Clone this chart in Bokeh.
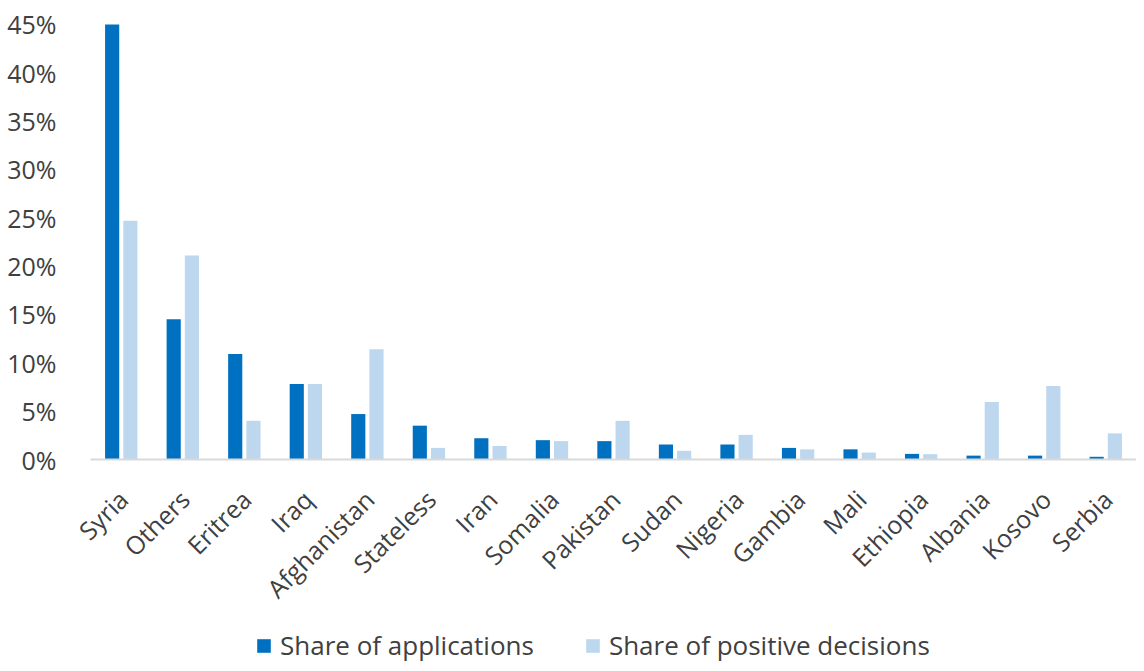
import math
from bokeh.plotting import figure
from bokeh.models import (ColumnDataSource, Range1d, Legend, LegendItem,
                          FixedTicker, CustomJSTickFormatter, Span)
from bokeh.core.properties import value
from bokeh.transform import dodge
from bokeh.embed import file_html
from bokeh.resources import INLINE

countries = ["Syria", "Others", "Eritrea", "Iraq", "Afghanistan", "Stateless", "Iran",
             "Somalia", "Pakistan", "Sudan", "Nigeria", "Gambia", "Mali", "Ethiopia",
             "Albania", "Kosovo", "Serbia"]
share_applications = [45.0, 14.5, 10.9, 7.8, 4.7, 3.5, 2.2, 2.0, 1.9, 1.55, 1.55, 1.2, 1.05, 0.58, 0.4, 0.4, 0.28]
share_positive = [24.7, 21.1, 4.0, 7.8, 11.4, 1.2, 1.4, 1.9, 4.0, 0.9, 2.55, 1.05, 0.72, 0.55, 5.95, 7.6, 2.7]
y_ticks = [0, 5, 10, 15, 20, 25, 30, 35, 40, 45]

DARK = "#0070C0"
LIGHT = "#BDD7EE"
FONT = "Open Sans"
TXT = "#404040"

# layout (pixels)
TOP = 22            # frame top
ZERO_PX = 459       # pixel row of the 0% baseline
FIG_H = 663
FIG_W = 1136
LEFT = 64           # frame left
CAT_LEFT = 90       # left edge of the first category
Y_MAX = 45.2
px_per_unit = (ZERO_PX - TOP) / Y_MAX
y_min = -(FIG_H - ZERO_PX) / px_per_unit
n = len(countries)
cat_w = (FIG_W - CAT_LEFT) / n
x_start = -0.5 - (CAT_LEFT - LEFT) / cat_w

idx = list(range(n))
src = ColumnDataSource(dict(i=idx, c=countries, a=share_applications, p=share_positive))

p = figure(x_range=Range1d(x_start, n - 0.5), y_range=Range1d(y_min, Y_MAX),
           frame_width=FIG_W - LEFT, frame_height=FIG_H - TOP, output_backend="svg",
           toolbar_location=None, min_border_left=LEFT, min_border_top=TOP,
           min_border_right=0, min_border_bottom=0)
p.outline_line_color = None
p.background_fill_color = "white"
p.border_fill_color = "white"

r1 = p.vbar(x=dodge("i", -0.148), top="a", bottom=0, width=0.23, source=src,
            fill_color=DARK, line_color=None)
r2 = p.vbar(x=dodge("i", 0.148), top="p", bottom=0, width=0.23, source=src,
            fill_color=LIGHT, line_color=None)

# category axis baseline (starts at the first category edge)
p.segment(x0=[-0.5], y0=[0], x1=[n - 0.5], y1=[0], line_color="#D9D9D9", line_width=2)

# category labels, rotated 45 degrees
p.text(x=dodge("i", 0.03), y=0, text="c", source=src, angle=math.pi / 4,
       text_align="right", text_baseline="middle", y_offset=35,
       text_font=value(FONT), text_font_size="25px", text_color=TXT)

p.xgrid.grid_line_color = None
p.ygrid.grid_line_color = None
p.xaxis.visible = False

p.yaxis.axis_line_color = None
p.yaxis.major_tick_line_color = None
p.yaxis.minor_tick_line_color = None
p.yaxis.ticker = FixedTicker(ticks=y_ticks)
p.yaxis.formatter = CustomJSTickFormatter(code="return tick + '%';")
p.yaxis.major_label_text_font = FONT
p.yaxis.major_label_text_font_size = "25px"
p.yaxis.major_label_text_color = TXT
p.yaxis.major_label_standoff = 2

legend = Legend(items=[LegendItem(label="Share of applications", renderers=[r1]),
                       LegendItem(label="Share of positive decisions", renderers=[r2])],
                orientation="horizontal", location=(255 - LEFT, 0))
legend.label_text_font = FONT
legend.label_text_font_size = "26px"
legend.label_text_color = TXT
legend.label_standoff = 8
legend.glyph_width = 17
legend.glyph_height = 17
legend.spacing = 50
legend.border_line_color = None
legend.background_fill_alpha = 0
legend.margin = 0
legend.padding = 0
p.add_layout(legend, "center")

open("out.html", "w").write(file_html(p, INLINE))
